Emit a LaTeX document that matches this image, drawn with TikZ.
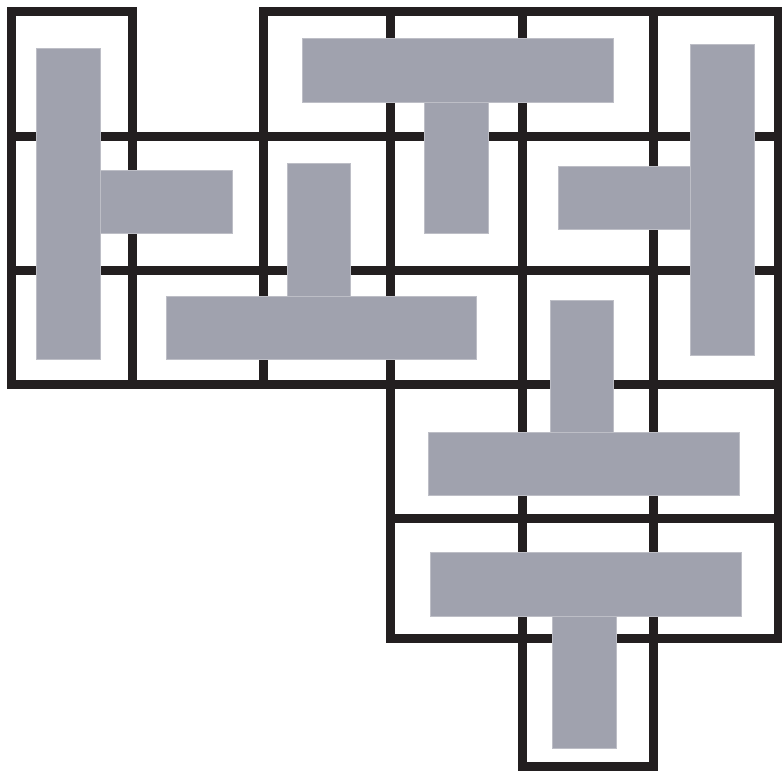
\documentclass[tikz,border=0pt]{standalone}
\usepackage{tikz}
\usepackage{xcolor}
\definecolor{tilegray}{HTML}{A0A2AE}
\definecolor{gridblack}{HTML}{231F20}

\begin{document}
\begin{tikzpicture}[
  x=0.025cm, y=-0.025cm,
  gridline/.style={draw=gridblack, line width=0.225cm, line cap=rect},
  piece/.style={fill=tilegray, draw=tilegray!70, line width=0.3pt},
]
  \useasboundingbox (0,0) rectangle (782,770);

  % board: vertical lines
  \draw[gridline] (11.5,11.5) -- (11.5,384.5);
  \draw[gridline] (132.5,11.5) -- (132.5,384.5);
  \draw[gridline] (263.5,11.5) -- (263.5,384.5);
  \draw[gridline] (390.5,11.5) -- (390.5,638.5);
  \draw[gridline] (522.5,11.5) -- (522.5,766);
  \draw[gridline] (653,11.5) -- (653,766);
  \draw[gridline] (778,11.5) -- (778,638.5);

  % board: horizontal lines
  \draw[gridline] (11.5,11.5) -- (132.5,11.5);
  \draw[gridline] (263.5,11.5) -- (778,11.5);
  \draw[gridline] (11.5,136) -- (778,136);
  \draw[gridline] (11.5,270) -- (778,270);
  \draw[gridline] (11.5,384.5) -- (778,384.5);
  \draw[gridline] (390.5,518) -- (778,518);
  \draw[gridline] (390.5,638.5) -- (778,638.5);
  \draw[gridline] (522.5,766) -- (653,766);

  % T pieces
  \fill[piece] (36,48) rectangle (100,359);
  \fill[piece] (100,170) rectangle (232,233);

  \fill[piece] (302,38) rectangle (613,102);
  \fill[piece] (424,102) rectangle (488,233);

  \fill[piece] (690,44) rectangle (754,355);
  \fill[piece] (558,166) rectangle (690,229);

  \fill[piece] (287,163) rectangle (350,296);
  \fill[piece] (166,296) rectangle (476,359);

  \fill[piece] (550,300) rectangle (613,432);
  \fill[piece] (428,432) rectangle (739,495);

  \fill[piece] (430,552) rectangle (741,616);
  \fill[piece] (552,616) rectangle (616,748);
\end{tikzpicture}
\end{document}
